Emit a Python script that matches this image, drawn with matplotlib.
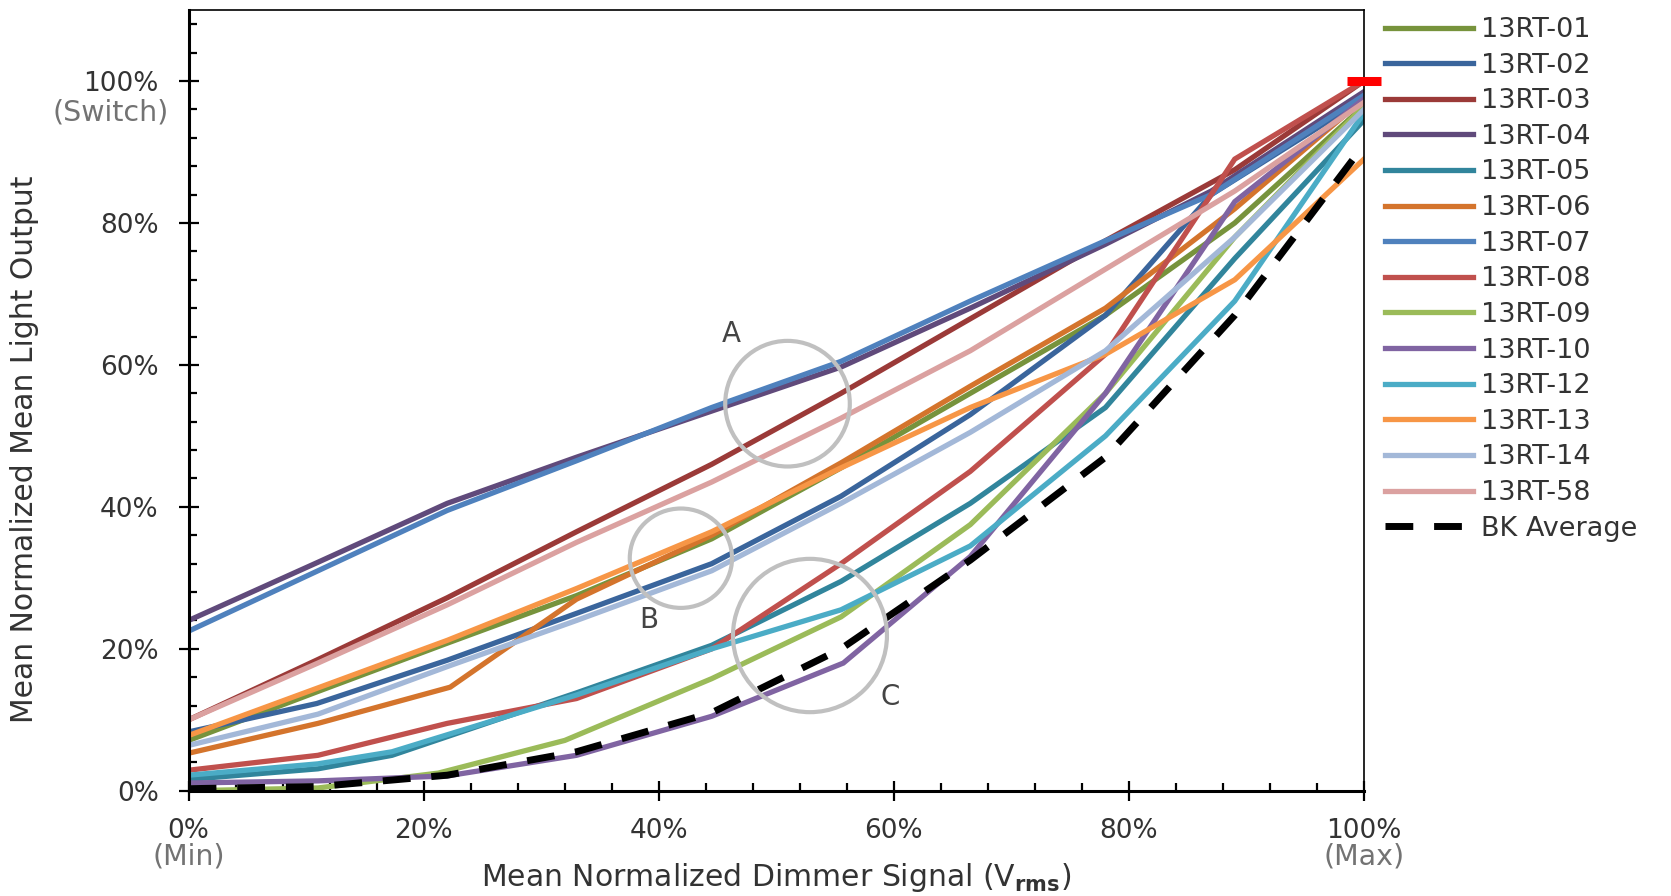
import matplotlib.pyplot as plt
from matplotlib.patches import Ellipse
from matplotlib.ticker import MultipleLocator, FuncFormatter

# series (fractions of full scale)
labels = ['13RT-01', '13RT-02', '13RT-03', '13RT-04', '13RT-05', '13RT-06', '13RT-07',
          '13RT-08', '13RT-09', '13RT-10', '13RT-12', '13RT-13', '13RT-14', '13RT-58']
colors = ['#77933c', '#3a659c', '#9b3a38', '#604a7b', '#31859c', '#d4742c', '#4f81bd',
          '#c0504d', '#9bbb59', '#8064a2', '#4bacc6', '#f79646', '#a3b8d8', '#dba1a0']

x_01 = [0, 0.11, 0.22, 0.33, 0.445, 0.555, 0.665, 0.78, 0.89, 1.0]
y_01 = [0.071, 0.14, 0.208, 0.275, 0.355, 0.455, 0.56, 0.67, 0.8, 0.965]
x_02 = [0, 0.109, 0.22, 0.33, 0.445, 0.555, 0.665, 0.78, 0.87, 1.0]
y_02 = [0.083, 0.123, 0.184, 0.25, 0.32, 0.415, 0.53, 0.67, 0.84, 0.975]
x_03 = [0, 0.11, 0.22, 0.33, 0.445, 0.555, 0.665, 0.78, 0.89, 1.0]
y_03 = [0.1, 0.185, 0.272, 0.365, 0.46, 0.56, 0.665, 0.775, 0.875, 1.0]
x_04 = [0, 0.11, 0.22, 0.33, 0.445, 0.555, 0.665, 0.78, 0.87, 1.0]
y_04 = [0.24, 0.322, 0.405, 0.47, 0.535, 0.597, 0.68, 0.77, 0.845, 0.985]
x_05 = [0, 0.11, 0.173, 0.33, 0.445, 0.555, 0.665, 0.78, 0.89, 1.0]
y_05 = [0.016, 0.031, 0.05, 0.138, 0.205, 0.295, 0.405, 0.54, 0.75, 0.945]
x_06 = [0, 0.11, 0.2225, 0.33, 0.445, 0.555, 0.665, 0.78, 0.89, 1.0]
y_06 = [0.053, 0.095, 0.146, 0.27, 0.36, 0.462, 0.57, 0.68, 0.82, 0.975]
x_07 = [0, 0.11, 0.22, 0.33, 0.445, 0.555, 0.665, 0.78, 0.87, 1.0]
y_07 = [0.225, 0.31, 0.395, 0.465, 0.54, 0.605, 0.69, 0.775, 0.84, 0.98]
x_08 = [0, 0.11, 0.22, 0.33, 0.445, 0.555, 0.665, 0.78, 0.89, 1.0]
y_08 = [0.029, 0.05, 0.095, 0.13, 0.2, 0.32, 0.45, 0.615, 0.89, 1.0]
x_09 = [0, 0.11, 0.2125, 0.32, 0.445, 0.555, 0.665, 0.78, 0.89, 1.0]
y_09 = [0.0, 0.004, 0.025, 0.071, 0.158, 0.245, 0.375, 0.56, 0.78, 0.965]
x_10 = [0, 0.11, 0.22, 0.33, 0.445, 0.557, 0.665, 0.78, 0.89, 1.0]
y_10 = [0.011, 0.014, 0.021, 0.05, 0.105, 0.18, 0.33, 0.56, 0.83, 0.975]
x_12 = [0, 0.11, 0.173, 0.33, 0.445, 0.555, 0.665, 0.78, 0.89, 1.0]
y_12 = [0.022, 0.038, 0.055, 0.135, 0.2, 0.255, 0.345, 0.5, 0.69, 0.955]
x_13 = [0, 0.11, 0.22, 0.33, 0.445, 0.555, 0.665, 0.78, 0.89, 1.0]
y_13 = [0.078, 0.145, 0.212, 0.285, 0.365, 0.455, 0.54, 0.615, 0.72, 0.89]
x_14 = [0, 0.11, 0.22, 0.33, 0.445, 0.555, 0.665, 0.78, 0.89, 1.0]
y_14 = [0.064, 0.108, 0.175, 0.24, 0.31, 0.405, 0.505, 0.62, 0.78, 0.96]
x_58 = [0, 0.11, 0.22, 0.33, 0.445, 0.555, 0.665, 0.78, 0.89, 1.0]
y_58 = [0.1, 0.18, 0.262, 0.35, 0.435, 0.525, 0.62, 0.735, 0.845, 0.97]
x_bk = [0, 0.11, 0.22, 0.33, 0.445, 0.555, 0.665, 0.78, 0.89, 1.0]
y_bk = [0.003, 0.006, 0.022, 0.055, 0.11, 0.2, 0.325, 0.47, 0.67, 0.91]

xs = [x_01, x_02, x_03, x_04, x_05, x_06, x_07, x_08, x_09, x_10, x_12, x_13, x_14, x_58]
ys = [y_01, y_02, y_03, y_04, y_05, y_06, y_07, y_08, y_09, y_10, y_12, y_13, y_14, y_58]

# full-on (switch) reference point
switch_x = [1.0]
switch_y = [1.0]

# highlighted regions A, B, C
circle_names = ['A', 'B', 'C']
circle_x = [0.5095, 0.4188, 0.5286]
circle_y = [0.5454, 0.3277, 0.2188]
circle_w = [0.106, 0.087, 0.131]
circle_h = [0.177, 0.14, 0.216]
letter_x = [0.4615, 0.3917, 0.5966]
letter_y = [0.643, 0.240, 0.132]

txt = '#333333'
sub = '#737373'

fig = plt.figure(figsize=(16.71, 8.96), dpi=100)
ax = fig.add_axes([0.1129, 0.1174, 0.7034, 0.8714])

for x, y, lab, c in zip(xs, ys, labels, colors):
    ax.plot(x, y, color=c, lw=3.8, label=lab, solid_joinstyle='miter')
ax.plot(x_bk, y_bk, color='black', lw=5, dashes=(4, 3), dash_capstyle='butt',
        label='BK Average', zorder=5)

ax.plot(switch_x, switch_y, marker='_', ms=25, mew=6.5, color='#ff0000',
        clip_on=False, zorder=10)

for name, cx, cy, w, h, lx, ly in zip(circle_names, circle_x, circle_y, circle_w,
                                      circle_h, letter_x, letter_y):
    ax.add_patch(Ellipse((cx, cy), w, h, fill=False, ec='#c0c0c0', lw=3, zorder=6))
    ax.text(lx, ly, name, fontsize=20, color='#444444', ha='center', va='center')

ax.set_xlim(0, 1.0)
ax.set_ylim(0, 1.10)
pct = FuncFormatter(lambda v, p: f'{v * 100:.0f}%')
ax.xaxis.set_major_locator(MultipleLocator(0.2))
ax.xaxis.set_minor_locator(MultipleLocator(0.04))
ax.yaxis.set_major_locator(MultipleLocator(0.2))
ax.yaxis.set_minor_locator(MultipleLocator(0.04))
ax.xaxis.set_major_formatter(pct)
ax.yaxis.set_major_formatter(pct)
ax.tick_params(which='major', direction='inout', length=15, width=1.6,
               labelsize=19, labelcolor=txt)
ax.tick_params(axis='x', which='major', pad=12)
ax.tick_params(axis='y', which='major', pad=14)
ax.tick_params(which='minor', direction='in', length=6, width=1.6)

for side in ['left', 'bottom']:
    ax.spines[side].set_linewidth(2.2)
for side in ['top', 'right']:
    ax.spines[side].set_linewidth(1.2)

ax.annotate('(Switch)', xy=(0, 1.0), xycoords=('axes fraction', 'data'),
            xytext=(-14, -23), textcoords='offset points', ha='right', va='center',
            fontsize=20.5, color=sub)
ax.annotate('(Min)', xy=(0, 0), xycoords='axes fraction', xytext=(0, -47),
            textcoords='offset points', ha='center', va='center', fontsize=20.5, color=sub)
ax.annotate('(Max)', xy=(1, 0), xycoords='axes fraction', xytext=(0, -47),
            textcoords='offset points', ha='center', va='center', fontsize=20.5, color=sub)

ax.set_xlabel(r'Mean Normalized Dimmer Signal (V$_{\mathbf{rms}}$)', fontsize=21.5, color=txt)
ax.xaxis.set_label_coords(0.5, -0.09)
ax.set_ylabel('Mean Normalized Mean Light Output', fontsize=21.5, color=txt)
ax.yaxis.set_label_coords(-0.127, 0.438)

ax.legend(loc='upper left', bbox_to_anchor=(1385 / 1671, 1 - 17 / 896),
          bbox_transform=fig.transFigure, frameon=False, fontsize=19.5,
          borderpad=0, borderaxespad=0, handlelength=3.25, handletextpad=0.3,
          labelspacing=0.355, labelcolor=txt)

fig.savefig('out.png', dpi=100)
